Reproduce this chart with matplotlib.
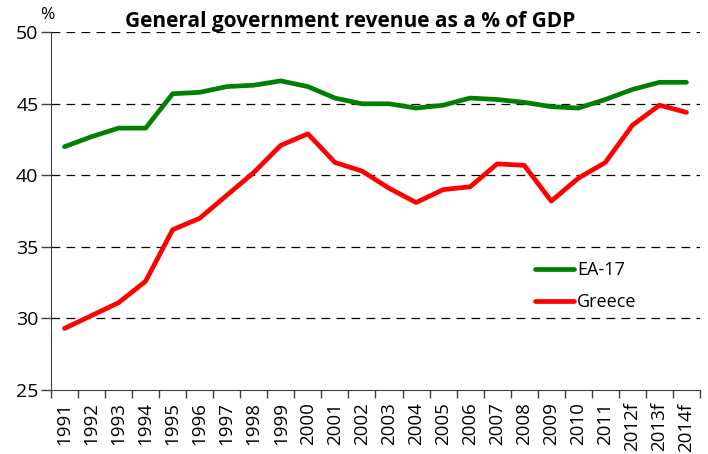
import numpy as np
import matplotlib.pyplot as plt

plt.rcParams['font.family'] = ['Open Sans', 'DejaVu Sans']

years = ['1991', '1992', '1993', '1994', '1995', '1996', '1997', '1998',
         '1999', '2000', '2001', '2002', '2003', '2004', '2005', '2006',
         '2007', '2008', '2009', '2010', '2011', '2012f', '2013f', '2014f']
ea17 = [42.0, 42.7, 43.3, 43.3, 45.7, 45.8, 46.2, 46.3, 46.6, 46.2, 45.4, 45.0,
        45.0, 44.7, 44.9, 45.4, 45.3, 45.1, 44.8, 44.7, 45.3, 46.0, 46.5, 46.5]
greece = [29.3, 30.2, 31.1, 32.6, 36.2, 37.0, 38.6, 40.2, 42.1, 42.9, 40.9, 40.3,
          39.1, 38.1, 39.0, 39.2, 40.8, 40.7, 38.2, 39.8, 40.9, 43.5, 44.9, 44.4]

x = np.arange(len(years))

fig = plt.figure(figsize=(7.08, 4.54), dpi=100)
ax = fig.add_axes([0.072, 0.141, 0.9167, 0.788])

ax.plot(x, ea17, color='#008000', lw=3.4, label='EA-17', solid_capstyle='round')
ax.plot(x, greece, color='#ff0000', lw=3.4, label='Greece', solid_capstyle='round')

ax.set_xlim(-0.5, len(years) - 0.5)
ax.set_ylim(25, 50)
ax.set_yticks([25, 30, 35, 40, 45, 50])
for v in [30, 35, 40, 45, 50]:
    ax.axhline(v, color='black', lw=0.9, ls=(0, (7, 5)), zorder=0)

ax.set_xticks(x)
ax.set_xticklabels(years, rotation=90)
ax.set_xticks(np.arange(len(years) + 1) - 0.5, minor=True)
ax.tick_params(axis='x', which='major', length=0, pad=9, labelsize=13.5)
ax.tick_params(axis='x', which='minor', length=6, width=1, color='#404040')
ax.tick_params(axis='y', length=7, width=1, pad=2, labelsize=14, color='#404040')

for s in ['top', 'right']:
    ax.spines[s].set_visible(False)
for s in ['left', 'bottom']:
    ax.spines[s].set_color('#404040')

ax.text(-0.005, 1.025, '%', transform=ax.transAxes, fontsize=12.5, ha='center', va='bottom')
fig.text(0.495, 0.952, 'General government revenue as a % of GDP',
         fontsize=15, fontweight='bold', ha='center', va='center')

ax.legend(frameon=False, loc='upper left', bbox_to_anchor=(0.72, 0.405),
          fontsize=13, handlelength=2.2, handletextpad=0.15, labelspacing=0.75)

fig.savefig('out.png', dpi=100)
